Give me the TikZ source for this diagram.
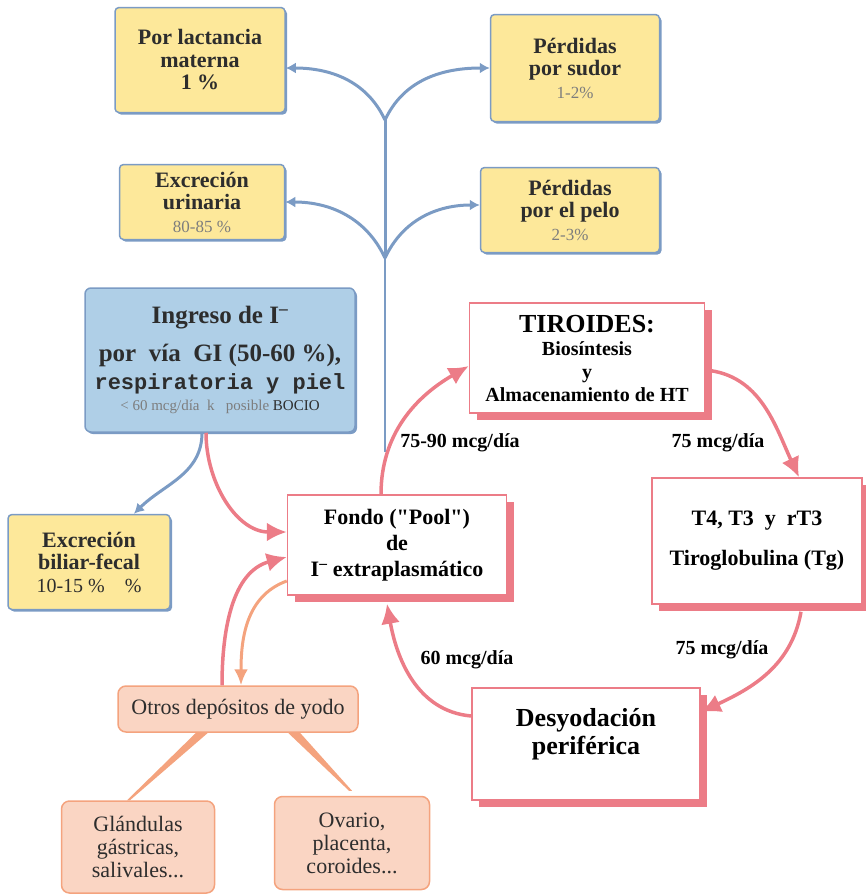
\documentclass[tikz,border=0pt]{standalone}
\usepackage{fontspec}
\setmainfont{Liberation Serif}
\setmonofont{Liberation Mono}
\newfontfamily\plainserif{Liberation Serif}[Ligatures=ResetAll]
\usetikzlibrary{arrows.meta,shadows}
\definecolor{yellowfill}{RGB}{253,232,154}
\definecolor{blueline}{RGB}{123,155,196}
\definecolor{bluefill}{RGB}{175,207,231}
\definecolor{pinkline}{RGB}{236,124,135}
\definecolor{peachfill}{RGB}{250,213,195}
\definecolor{orangeline}{RGB}{244,163,126}
\definecolor{darktext}{RGB}{45,45,45}
\definecolor{greytext}{RGB}{125,125,125}
\tikzset{
  yellowbox/.style={draw=blueline,line width=1.5pt,fill=yellowfill,rounded corners=4pt,
    align=center,inner sep=2pt,text=darktext,font=\fontsize{22}{22.5}\selectfont\bfseries,
    drop shadow={shadow xshift=2pt,shadow yshift=-2pt,fill=blueline,opacity=1}},
  pinkbox/.style={draw=pinkline,line width=1.5pt,fill=white,align=center,inner sep=2pt,
    drop shadow={shadow xshift=7pt,shadow yshift=-7pt,fill=pinkline,opacity=1}},
  peachbox/.style={draw=orangeline,line width=1.5pt,fill=peachfill,rounded corners=8pt,
    align=center,inner sep=2pt,text=darktext,font=\fontsize{22}{23}\selectfont},
  blueflow/.style={draw=blueline,line width=3pt,-{Latex[length=10pt,width=11pt]}},
  pinkflow/.style={draw=pinkline,line width=3.5pt,-{Latex[length=20pt,width=19pt]}},
  orangeflow/.style={draw=orangeline,line width=3pt,-{Latex[length=16pt,width=14pt]}},
  doselabel/.style={font=\fontsize{20}{22}\selectfont\bfseries}
}
\newcommand{\pct}{\fontsize{17}{21}\selectfont\mdseries\color{greytext}}
\begin{document}
\begin{tikzpicture}[x=1pt,y=-1pt]
\useasboundingbox (0,0) rectangle (865,894);

\node[yellowbox,minimum width=170pt,minimum height=105pt] (lactancia) at (200,60)
  {Por lactancia\\ materna\\ 1 \%};
\node[yellowbox,minimum width=169pt,minimum height=107pt] (sudor) at (575,68)
  {Pérdidas\\ por sudor\\ {\pct 1-2\%}};
\node[yellowbox,minimum width=165pt,minimum height=75pt] (urinaria) at (202,202)
  {Excreción\\ urinaria\\ {\pct 80-85 \%}};
\node[yellowbox,minimum width=179pt,minimum height=85pt] (pelo) at (570,210)
  {Pérdidas\\ por el pelo\\ {\pct 2-3\%}};
\node[yellowbox,minimum width=162pt,minimum height=95pt] (biliar) at (89,562)
  {Excreción\\ biliar-fecal\\ {\fontsize{20}{22}\selectfont\mdseries 10-15 \%\quad \%}};

\node[draw=blueline,line width=1.5pt,fill=bluefill,rounded corners=6pt,align=center,
  minimum width=270pt,minimum height=144pt,text=darktext,font=\fontsize{25}{28}\selectfont\bfseries,
  drop shadow={shadow xshift=2pt,shadow yshift=-2pt,fill=blueline,opacity=1}] (ingreso) at (220,360)
  {Ingreso de I\textsuperscript{–}\\[10pt]
   por\ \ vía\ \ GI (50-60 \%),\\
   {\fontsize{22}{26}\selectfont\ttfamily\bfseries respiratoria y piel}\\[-7pt]
   {\fontsize{15}{16}\selectfont\mdseries\color{greytext} < 60 mcg/día\ \ k\ \ \ posible \textcolor{darktext}{BOCIO}}};

\node[pinkbox,minimum width=219pt,minimum height=100pt,font=\fontsize{22}{26}\selectfont\bfseries] (fondo) at (397,545)
  {Fondo ({\plainserif\bfseries "}Pool{\plainserif\bfseries "})\\ de\\ I\textsuperscript{–} extraplasmático};
\node[pinkbox,minimum width=235pt,minimum height=110pt,font=\fontsize{20}{23}\selectfont\bfseries] (tiroides) at (587,358)
  {{\fontsize{26}{28}\selectfont TIROIDES:}\\ Biosíntesis\\ y\\ Almacenamiento de HT};
\node[pinkbox,minimum width=210pt,minimum height=126pt,font=\fontsize{22}{26}\selectfont\bfseries] (t4) at (757,541)
  {T4,\ T3\ \ y\ \ rT3\\[14pt] Tiroglobulina (Tg)};
\node[pinkbox,minimum width=228pt,minimum height=112pt,font=\fontsize{26}{28}\selectfont\bfseries] (desyod) at (586,744)
  {Desyodación\\ periférica\\[-12pt] \strut};

\node[peachbox,minimum width=240pt,minimum height=46pt] (otros) at (238,709)
  {Otros depósitos de yodo};
\node[peachbox,minimum width=153pt,minimum height=92pt] (glandulas) at (138,847)
  {Glándulas\\ gástricas,\\ salivales...};
\node[peachbox,minimum width=155pt,minimum height=93pt] (ovario) at (352,843)
  {Ovario,\\ placenta,\\ coroides...};

\coordinate (fork1) at (385,120);
\coordinate (fork2) at (385,258);
\coordinate (trunkend) at (385,452);
\draw[blueline,line width=3pt] (fork1) -- (fork2);
\draw[blueline,line width=1.2pt] (fork2) -- (trunkend);
\draw[blueflow] (fork1) to[out=115,in=0] ([yshift=-8pt]lactancia.east);
\draw[blueflow] (fork1) to[out=65,in=180] (sudor.west);
\draw[blueflow] (fork2) to[out=115,in=0] (urinaria.east);
\draw[blueflow] (fork2) to[out=65,in=180] ([yshift=5pt]pelo.west);

\draw[blueflow] ([xshift=-18pt]ingreso.south) to[out=-90,in=45] ([xshift=45pt]biliar.north);
\draw[pinkflow] ([xshift=-14pt]ingreso.south) to[out=-90,in=180] ([yshift=13pt]fondo.west);
\draw[pinkflow] ([xshift=-16pt]otros.north) to[out=90,in=195] ([yshift=-12pt]fondo.west);
\draw[orangeflow] ([yshift=-36pt]fondo.west) to[out=200,in=90] ([xshift=3pt]otros.north);
\fill[orangeline] ([xshift=-42pt]otros.south) -- ([xshift=-30pt]otros.south) -- ([xshift=-8pt]glandulas.north) -- ([xshift=-11pt]glandulas.north) -- cycle;
\fill[orangeline] ([xshift=50pt]otros.south) -- ([xshift=62pt]otros.south) -- ([yshift=5pt]ovario.north) -- ([xshift=-3pt,yshift=5pt]ovario.north) -- cycle;

\draw[pinkflow] ([xshift=-16pt]fondo.north) to[out=90,in=210] ([yshift=-8pt]tiroides.west);
\draw[pinkflow] ([yshift=-12pt]tiroides.east) to[out=-5,in=115] ([xshift=42pt]t4.north);
\draw[pinkflow] ([xshift=44pt,yshift=-7pt]t4.south) to[out=-100,in=25] ([yshift=32pt]desyod.east);
\draw[pinkflow] ([yshift=28pt]desyod.west) to[out=175,in=-80] ([xshift=-10pt,yshift=-8pt]fondo.south);

\node[doselabel] (dose1) at (460,443) {75-90 mcg/día};
\node[doselabel] (dose2) at (718,443) {75 mcg/día};
\node[doselabel] (dose3) at (722,650) {75 mcg/día};
\node[doselabel] (dose4) at (467,660) {60 mcg/día};
\end{tikzpicture}
\end{document}
